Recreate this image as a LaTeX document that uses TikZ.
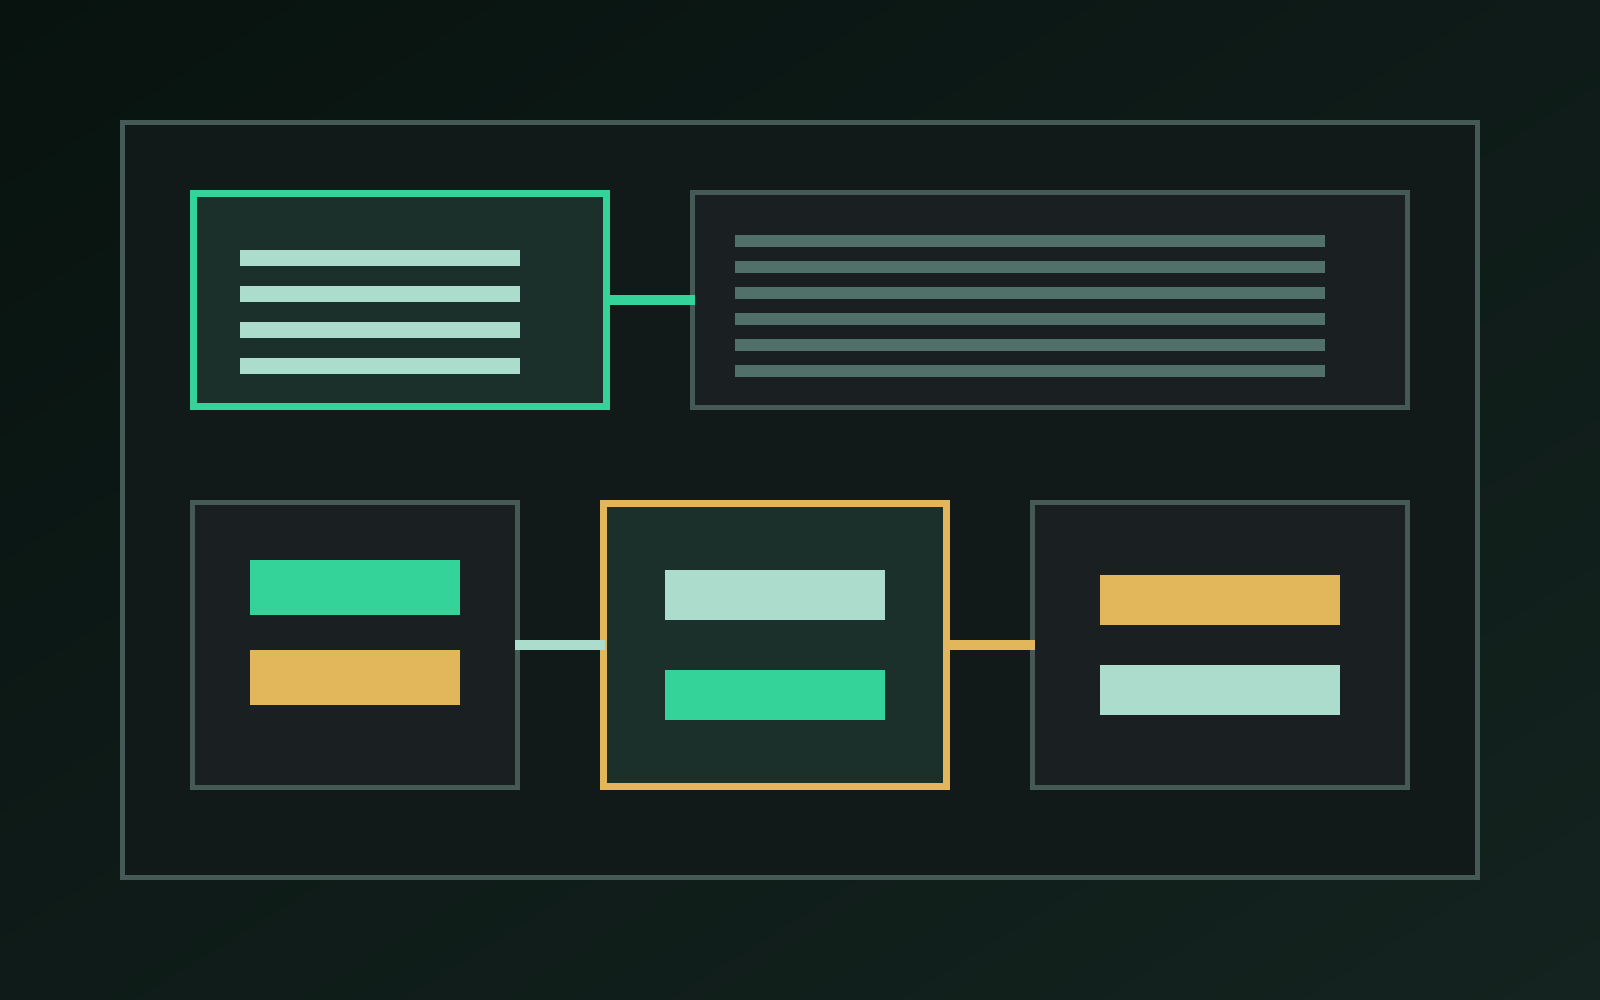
\documentclass[tikz,border=0pt]{standalone}
\usetikzlibrary{positioning,shadings}
\definecolor{bgTL}{HTML}{08130F}
\definecolor{bgTR}{HTML}{0E1B18}
\definecolor{bgBL}{HTML}{0E1B18}
\definecolor{bgBR}{HTML}{14231F}
\definecolor{frameFill}{HTML}{121A19}
\definecolor{frameLine}{HTML}{465A55}
\definecolor{boxFill}{HTML}{1A1F21}
\definecolor{accFill}{HTML}{1B302B}
\definecolor{emer}{HTML}{34D399}
\definecolor{gold}{HTML}{E2B75B}
\definecolor{mint}{HTML}{ACDCCC}
\definecolor{sage}{HTML}{52706A}
\tikzset{
  plainbox/.style={draw=frameLine, fill=boxFill, line width=5pt, inner sep=0pt, outer sep=0pt},
  accbox/.style={fill=accFill, line width=7pt, inner sep=0pt, outer sep=0pt},
  bar/.style={inner sep=0pt, outer sep=0pt},
  link/.style={line width=10pt}
}
\begin{document}
\begin{tikzpicture}[x=1pt,y=-1pt]
\useasboundingbox (0,0) rectangle (1600,1000);
\shade[upper left=bgTL, upper right=bgTR, lower left=bgBL, lower right=bgBR] (0,0) rectangle (1600,1000);
% outer frame
\node[draw=frameLine, fill=frameFill, line width=5pt, inner sep=0pt, outer sep=0pt,
      minimum width=1355pt, minimum height=755pt] (frame) at (800,500) {};
% boxes
\node[accbox, draw=emer, minimum width=413pt, minimum height=213pt] (G) at (400,300) {};
\node[plainbox, minimum width=715pt, minimum height=215pt] (T) at (1050,300) {};
\node[plainbox, minimum width=325pt, minimum height=285pt] (L) at (355,645) {};
\node[accbox, draw=gold, minimum width=343pt, minimum height=283pt] (M) at (775,645) {};
\node[plainbox, minimum width=375pt, minimum height=285pt] (R) at (1220,645) {};
% green box bars
\foreach \y [count=\i] in {258,294,330,366}
  \node[bar, fill=mint, minimum width=280pt, minimum height=16pt] (g\i) at (380,\y) {};
% top gray box bars
\foreach \y [count=\i] in {241,267,293,319,345,371}
  \node[bar, fill=sage, minimum width=590pt, minimum height=12pt] (t\i) at (1030,\y) {};
% bottom-left bars
\node[bar, fill=emer, minimum width=210pt, minimum height=55pt] (l1) at (355,587.5) {};
\node[bar, fill=gold, minimum width=210pt, minimum height=55pt] (l2) at (355,677.5) {};
% middle bars
\node[bar, fill=mint, minimum width=220pt, minimum height=50pt] (m1) at (775,595) {};
\node[bar, fill=emer, minimum width=220pt, minimum height=50pt] (m2) at (775,695) {};
% right bars
\node[bar, fill=gold, minimum width=240pt, minimum height=50pt] (r1) at (1220,600) {};
\node[bar, fill=mint, minimum width=240pt, minimum height=50pt] (r2) at (1220,690) {};
% connectors
\draw[link, emer] ([xshift=-1.5pt]G.east) -- ([xshift=2.5pt]T.west);
\draw[link, mint] ([xshift=-2.5pt]L.east) -- ([xshift=1.5pt]M.west);
\draw[link, gold] ([xshift=-1.5pt]M.east) -- ([xshift=2.5pt]R.west);
\end{tikzpicture}
\end{document}
